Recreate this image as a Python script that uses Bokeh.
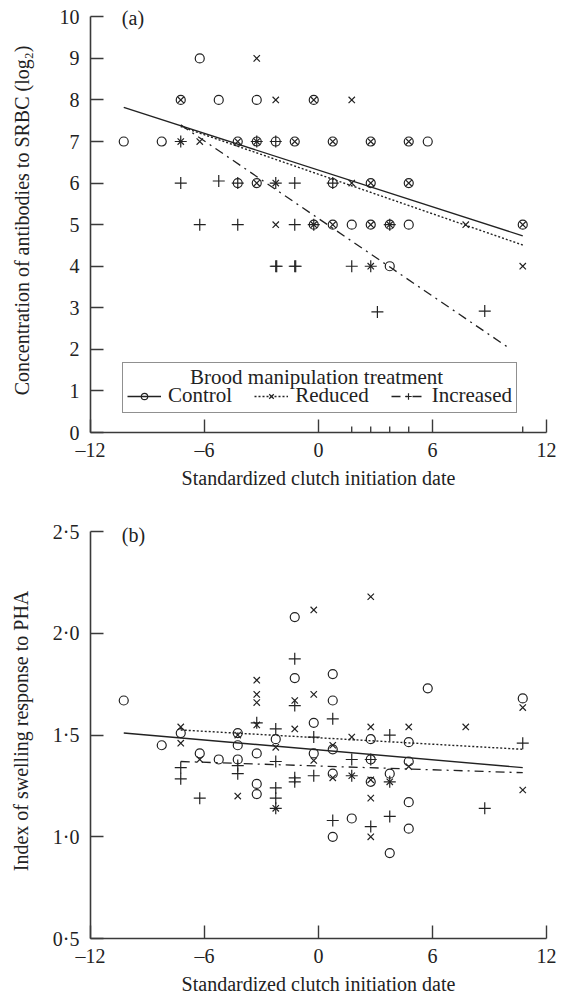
from bokeh.plotting import figure
from bokeh.layouts import column
from bokeh.models import Range1d, FixedTicker, Legend, LegendItem, Label
from bokeh.embed import file_html
from bokeh.resources import INLINE

FONT = "Liberation Serif"

# ---------------- data: panel (a) antibodies to SRBC ----------------
a_ctrl_x = [-6.25, -7.25, -5.25, -3.25, -0.25,
            -10.25, -8.25, -4.25, -3.25, -2.25, -1.25, 0.75, 2.75, 4.75, 5.75,
            -4.25, -3.25, 0.75, 2.75, 4.75,
            -0.25, 0.75, 1.75, 2.75, 3.75, 4.75, 10.75,
            3.75]
a_ctrl_y = [9, 8, 8, 8, 8,
            7, 7, 7, 7, 7, 7, 7, 7, 7, 7,
            6, 6, 6, 6, 6,
            5, 5, 5, 5, 5, 5, 5,
            4]
a_red_x = [-3.25, -7.25, -2.25, -0.25, 1.75,
           -7.25, -6.25, -4.25, -3.25, -1.25, 0.75, 2.75, 4.75,
           -3.25, -2.25, 1.75, 2.75, 4.75,
           -2.25, -0.25, 0.75, 2.75, 3.75, 7.75, 10.75,
           2.75, 10.75]
a_red_y = [9, 8, 8, 8, 8,
           7, 7, 7, 7, 7, 7, 7, 7,
           6, 6, 6, 6, 6,
           5, 5, 5, 5, 5, 5, 5,
           4, 4]
a_inc_x = [-7.25, -3.25, -2.25,
           -7.25, -5.25, -4.25, -2.25, -1.25, 0.75,
           -6.25, -4.25, -1.25, -0.25, 3.75,
           -2.25, -2.2, -1.25, -1.2, 1.75, 2.75,
           3.1, 8.75,
           1.75, 2.75, 3.75, 4.75, 10.75]
a_inc_y = [7, 7, 7,
           6, 6.05, 6, 6, 6, 6,
           5, 5, 5, 5, 5,
           4, 4, 4, 4, 4, 4,
           2.9, 2.92,
           0, 0, 0, 0, 0]
a_ctrl_line_x = [-10.25, 10.75]
a_ctrl_line_y = [7.82, 4.73]
a_red_line_x = [-7.25, 10.75]
a_red_line_y = [7.36, 4.51]
a_inc_line_x = [-7.25, 10.0]
a_inc_line_y = [7.4, 2.04]

# ---------------- data: panel (b) swelling response to PHA ----------------
b_ctrl_x = [-10.25, -8.25, -7.25, -6.25, -5.25, -4.25, -4.25, -4.25,
            -3.25, -3.25, -3.25, -2.25, -1.25, -1.25, -0.25, -0.25,
            0.75, 0.75, 0.75, 0.75, 0.75, 1.75, 2.75, 2.75, 2.75,
            3.75, 3.75, 4.75, 4.75, 4.75, 4.75, 5.75, 10.75]
b_ctrl_y = [1.67, 1.45, 1.51, 1.41, 1.38, 1.51, 1.45, 1.38,
            1.41, 1.26, 1.21, 1.48, 2.08, 1.78, 1.56, 1.41,
            1.80, 1.67, 1.43, 1.31, 1.00, 1.09, 1.48, 1.38, 1.27,
            1.31, 0.92, 1.465, 1.37, 1.17, 1.04, 1.73, 1.68]
b_red_x = [-7.25, -7.25, -6.25, -4.25, -4.25, -3.25, -3.25, -3.25, -3.25,
           -2.25, -2.25, -1.25, -1.25, -0.25, -0.25, -0.25, 0.75, 0.75,
           1.75, 1.75, 2.75, 2.75, 2.75, 2.75, 2.75, 3.75, 4.75, 4.75,
           7.75, 10.75, 10.75]
b_red_y = [1.54, 1.46, 1.38, 1.50, 1.20, 1.77, 1.70, 1.66, 1.55,
           1.44, 1.14, 1.67, 1.53, 2.115, 1.70, 1.375, 1.45, 1.29,
           1.49, 1.30, 2.18, 1.54, 1.28, 1.19, 1.00, 1.27, 1.54, 1.345,
           1.54, 1.635, 1.23]
b_inc_x = [-7.25, -7.25, -6.25, -4.25, -4.25, -3.25, -2.25, -2.25, -2.25,
           -2.25, -2.25, -1.25, -1.25, -1.25, -1.25, -0.25, -0.25, 0.75,
           0.75, 1.75, 1.75, 2.75, 2.75, 3.75, 3.75, 3.75, 8.75, 10.75]
b_inc_y = [1.34, 1.285, 1.19, 1.35, 1.31, 1.56, 1.53, 1.37, 1.24,
           1.19, 1.14, 1.875, 1.645, 1.29, 1.27, 1.49, 1.30, 1.58,
           1.08, 1.38, 1.30, 1.38, 1.05, 1.50, 1.27, 1.10, 1.14, 1.46]
b_ctrl_line_x = [-10.25, 10.75]
b_ctrl_line_y = [1.51, 1.34]
b_red_line_x = [-7.25, 10.75]
b_red_line_y = [1.525, 1.43]
b_inc_line_x = [-7.25, 10.75]
b_inc_line_y = [1.37, 1.315]

x_ticks = [-12, -6, 0, 6, 12]
x_tick_labels = {-12: "\u201312", -6: "\u20136", 0: "0", 6: "6", 12: "12"}
a_y_ticks = list(range(0, 11))
b_y_ticks = [0.5, 1.0, 1.5, 2.0, 2.5]
b_y_tick_labels = {0.5: "0\u00b75", 1.0: "1\u00b70", 1.5: "1\u00b75", 2.0: "2\u00b70", 2.5: "2\u00b75"}
legend_title = "Brood manipulation treatment"

INK = "#222222"
AXC = "#3a3a3a"


def style_axes(p, ylabel, ylabel_standoff):
    p.grid.visible = False
    p.outline_line_color = None
    for ax in (p.xaxis[0], p.yaxis[0]):
        ax.axis_line_color = AXC
        ax.axis_line_width = 1.6
        ax.major_tick_line_color = AXC
        ax.major_tick_line_width = 1.4
        ax.major_tick_in = 13
        ax.major_tick_out = 0
        ax.minor_tick_line_color = None
        ax.major_label_text_font = FONT
        ax.major_label_text_font_size = "20px"
        ax.major_label_text_color = INK
        ax.axis_label_text_font = FONT
        ax.axis_label_text_font_size = "20px"
        ax.axis_label_text_font_style = "normal"
        ax.axis_label_text_color = INK
    p.xaxis.ticker = FixedTicker(ticks=x_ticks)
    p.xaxis.major_label_overrides = x_tick_labels
    p.xaxis.axis_label = "Standardized clutch initiation date"
    p.xaxis.major_label_standoff = 6
    p.xaxis.axis_label_standoff = 3
    p.yaxis.axis_label = ylabel
    p.yaxis.major_label_standoff = 11
    p.yaxis.axis_label_standoff = ylabel_standoff


def draw_series(p, cx, cy, rx, ry, ix, iy, clx, cly, rlx, rly, ilx, ily, dash_inc):
    lc = p.line(clx, cly, line_color=INK, line_width=1.4)
    lr = p.line(rlx, rly, line_color=INK, line_width=1.4, line_dash="2 2")
    li = p.line(ilx, ily, line_color=INK, line_width=1.3, line_dash=dash_inc)
    sc = p.scatter(cx, cy, marker="circle", size=9, fill_color=None, line_color=INK, line_width=1.2)
    sr = p.scatter(rx, ry, marker="x", size=9, line_color=INK, line_width=1.2)
    si = p.scatter(ix, iy, marker="cross", size=12, line_color=INK, line_width=1.2)
    return (lc, sc), (lr, sr), (li, si)


# ---------------- panel (a) ----------------
pa = figure(width=566, height=502, x_range=Range1d(-12, 12), y_range=Range1d(0, 10.2),
            output_backend="svg", toolbar_location=None,
            min_border_left=90, min_border_right=20, min_border_top=8, min_border_bottom=70)
style_axes(pa, "Concentration of antibodies to SRBC (log\u2082)", 24)
pa.yaxis.ticker = FixedTicker(ticks=a_y_ticks)
pa.yaxis.bounds = (0, 10)
ctrl_a, red_a, inc_a = draw_series(pa, a_ctrl_x, a_ctrl_y, a_red_x, a_red_y, a_inc_x, a_inc_y,
                                   a_ctrl_line_x, a_ctrl_line_y, a_red_line_x, a_red_line_y,
                                   a_inc_line_x, a_inc_line_y, "9 5 2 5")
legend = Legend(items=[LegendItem(label="Control", renderers=list(ctrl_a)),
                       LegendItem(label="Reduced", renderers=list(red_a)),
                       LegendItem(label="Increased", renderers=list(inc_a))],
                orientation="horizontal", location=(32, 19),
                title=" ",
                title_text_font=FONT, title_text_font_size="13px", title_text_font_style="normal",
                title_text_color=INK, title_standoff=0,
                label_text_font=FONT, label_text_font_size="21px", label_text_color=INK,
                border_line_color=INK, border_line_width=1.2, background_fill_alpha=0,
                padding=4, spacing=22, label_standoff=7, glyph_width=34, glyph_height=16,
                label_height=16, margin=0)
pa.add_layout(legend, "center")
pa.add_layout(Label(x=-0.1, y=1.33, text=legend_title, text_font=FONT, text_font_size="21px",
                    text_color=INK, text_baseline="middle", text_align="center"))
pa.add_layout(Label(x=-10.35, y=9.96, text="(a)", text_font=FONT, text_font_size="20px",
                    text_color=INK, text_baseline="middle", text_align="left"))

# ---------------- panel (b) ----------------
pb = figure(width=566, height=498, x_range=Range1d(-12, 12), y_range=Range1d(0.5, 2.54),
            output_backend="svg", toolbar_location=None,
            min_border_left=90, min_border_right=20, min_border_top=21, min_border_bottom=62)
style_axes(pb, "Index of swelling response to PHA", 18)
pb.yaxis.ticker = FixedTicker(ticks=b_y_ticks)
pb.yaxis.major_label_overrides = b_y_tick_labels
pb.yaxis.bounds = (0.5, 2.5)
draw_series(pb, b_ctrl_x, b_ctrl_y, b_red_x, b_red_y, b_inc_x, b_inc_y,
            b_ctrl_line_x, b_ctrl_line_y, b_red_line_x, b_red_line_y,
            b_inc_line_x, b_inc_line_y, "9 5 2 5")
pb.add_layout(Label(x=-10.35, y=2.485, text="(b)", text_font=FONT, text_font_size="20px",
                    text_color=INK, text_baseline="middle", text_align="left"))

layout = column(pa, pb, spacing=0)
open("out.html", "w").write(file_html(layout, INLINE))
